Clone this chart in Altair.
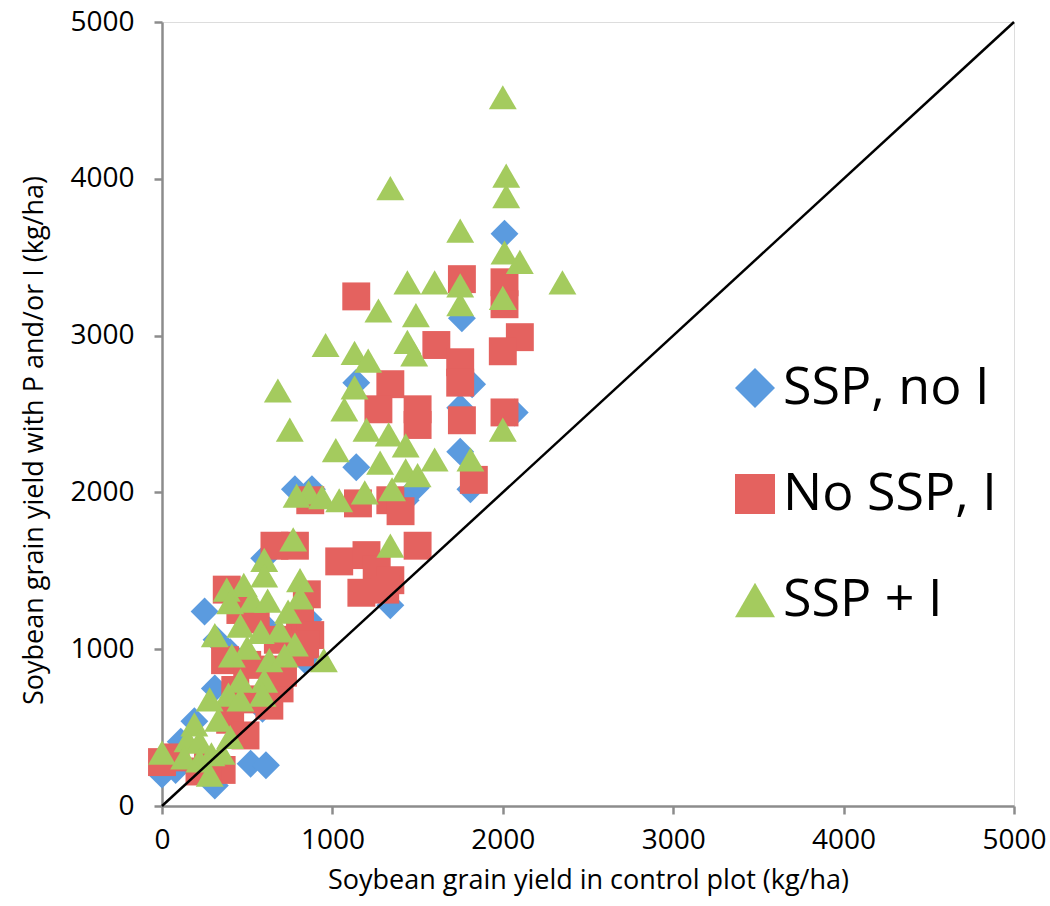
import altair as alt
import pandas as pd

# SSP, no I  (blue diamonds)
blue_x = [2010, 1760, 1140, 1820, 1750, 2070, 1750, 1490, 1140, 1810, 880, 780, 1430,
          1340, 820, 630, 860, 600, 320, 400, 310, 250, 840, 590, 520, 610, 110, 80, 310, 0, 190]
blue_y = [3650, 3110, 2700, 2690, 2540, 2510, 2260, 2030, 2160, 2020, 2020, 2020, 1950,
          1280, 1150, 1120, 1190, 1580, 1060, 980, 750, 1240, 930, 620, 270, 260, 410, 230, 130, 200, 540]

# No SSP, I  (red squares)
red_x = [1140, 1760, 2010, 2010, 1610, 2100, 2000, 1750, 1750, 1340, 1270, 1500, 1500, 1760, 2010,
         1830, 870, 1150, 1340, 1400, 1500, 1040, 1200, 1260, 1340, 1170, 1310, 660, 780, 380,
         850, 810, 460, 550, 870, 680, 370, 500, 650, 810, 690, 430, 530, 630, 400, 490, 710,
         80, 0, 220, 350, 270, 840]
red_y = [3250, 3360, 3340, 3200, 2940, 2990, 2900, 2830, 2700, 2690, 2530, 2530, 2430, 2460, 2510,
         2080, 1950, 1930, 1950, 1880, 1660, 1560, 1600, 1510, 1440, 1360, 1380, 1660, 1660, 1380,
         1350, 1190, 1250, 1190, 1090, 1060, 930, 900, 870, 980, 750, 740, 680, 640, 550, 450, 850,
         310, 280, 220, 230, 260, 1030]

# SSP + I  (green triangles)
green_x = [2000, 1340, 2020, 2020, 1750, 2010, 2100, 2350, 1600, 1440, 1750, 2000, 1750, 1270,
           1490, 960, 1440, 1130, 1210, 1480, 680, 1130, 1070, 750, 1200, 1330, 2000, 1020,
           1430, 1280, 1600, 1810, 860, 790, 940, 1190, 1350, 1430, 1500, 1040, 1340, 770,
           600, 810, 480, 380, 600, 400, 530, 740, 810, 620, 460, 310, 580, 690, 500, 780,
           630, 460, 950, 410, 600, 720, 390, 280, 460, 590, 190, 330, 150, 220, 350, 0,
           130, 290, 400, 220, 280]
green_y = [4520, 3940, 4020, 3890, 3670, 3530, 3470, 3340, 3340, 3340, 3320, 3240, 3200, 3160,
           3130, 2940, 2960, 2890, 2840, 2880, 2650, 2670, 2530, 2400, 2400, 2370, 2400, 2270,
           2300, 2190, 2210, 2210, 2000, 1980, 1970, 2000, 2020, 2140, 2110, 1950, 1660, 1700,
           1570, 1440, 1410, 1380, 1470, 1300, 1310, 1240, 1330, 1310, 1150, 1090, 1110, 1120,
           1010, 1030, 930, 800, 930, 960, 800, 960, 710, 680, 680, 710, 520, 550, 420, 410,
           340, 340, 310, 330, 440, 290, 200]

series_names = ["SSP, no I", "No SSP, I", "SSP + I"]
series_colors = ["#5B9BDF", "#E4625F", "#A4CB5E"]
series_shapes = ["diamond", "square", "triangle-up"]

line_x = [0, 5000]
line_y = [0, 5000]

rows = []
for name, xs, ys in zip(series_names, [blue_x, red_x, green_x], [blue_y, red_y, green_y]):
    for xv, yv in zip(xs, ys):
        rows.append({"x": xv, "y": yv, "series": name})
df = pd.DataFrame(rows)
df["order"] = range(len(df))

line_df = pd.DataFrame({"x": line_x, "y": line_y})

FONT = "Open Sans"

x_axis = alt.Axis(
    title="Soybean grain yield in control plot (kg/ha)",
    values=[0, 1000, 2000, 3000, 4000, 5000], format="d", grid=False,
    domainColor="#8c8c8c", domainWidth=2.5, tickColor="#8c8c8c", tickWidth=2.5, tickSize=8,
    labelFont=FONT, labelFontSize=28, labelColor="#000000", labelPadding=12,
    titleFont=FONT, titleFontSize=27, titleFontWeight="normal", titleColor="#000000",
    titleY=61, titleBaseline="top", labelFlush=False,
)
y_axis = alt.Axis(
    title="Soybean grain yield with P and/or I (kg/ha)",
    values=[0, 1000, 2000, 3000, 4000, 5000], format="d", grid=False,
    domainColor="#8c8c8c", domainWidth=2.5, tickColor="#8c8c8c", tickWidth=2.5, tickSize=8,
    labelFont=FONT, labelFontSize=28, labelColor="#000000", labelPadding=20,
    titleFont=FONT, titleFontSize=27, titleFontWeight="normal", titleColor="#000000",
    titlePadding=21, titleY=418, labelFlush=False,
)

xs = alt.Scale(domain=[0, 5000], nice=False)
ys = alt.Scale(domain=[0, 5000], nice=False)

legend = alt.Legend(
    title=None, orient="none", legendX=567, legendY=340,
    labelFont=FONT, labelFontSize=52, labelColor="#000000", labelOffset=2, labelLimit=0,
    symbolSize=1600, rowPadding=54, fillColor="white", padding=0,
    symbolStrokeWidth=0,
)

points = alt.Chart(df).mark_point(filled=True, size=780, opacity=1).encode(
    x=alt.X("x:Q", scale=xs, axis=x_axis),
    y=alt.Y("y:Q", scale=ys, axis=y_axis),
    color=alt.Color("series:N", scale=alt.Scale(domain=series_names, range=series_colors), legend=legend),
    shape=alt.Shape("series:N", scale=alt.Scale(domain=series_names, range=series_shapes), legend=legend),
    order=alt.Order("order:Q"),
)

line = alt.Chart(line_df).mark_line(color="black", strokeWidth=2.5).encode(
    x=alt.X("x:Q", scale=xs),
    y=alt.Y("y:Q", scale=ys),
)

chart = alt.layer(points, line).properties(
    width=852, height=784,
    autosize=alt.AutoSizeParams(type="none"),
    padding={"left": 162, "top": 22, "right": 36, "bottom": 100},
).configure_view(stroke=None).configure(background="white")

chart.save("out.html", embed_options={"renderer": "svg", "actions": False})
